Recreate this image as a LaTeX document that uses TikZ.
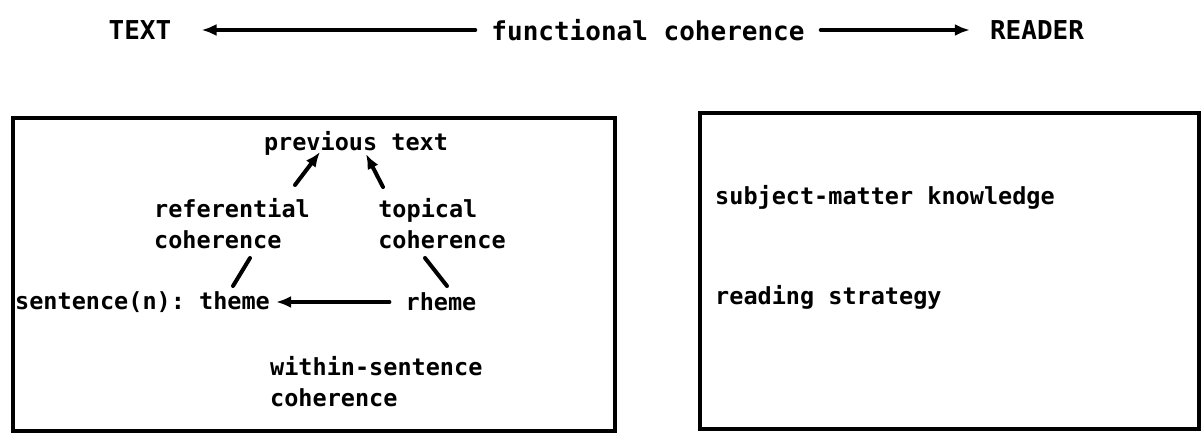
\documentclass[tikz,border=0pt]{standalone}
\usepackage{fontspec}
\setmonofont{DejaVu Sans Mono}
\usetikzlibrary{arrows.meta}
\begin{document}
\begin{tikzpicture}[x=1pt,y=-1pt,
  lbl/.style={font=\ttfamily\bfseries\fontsize{23.5}{31}\selectfont, inner sep=0pt, align=left},
  toplbl/.style={font=\ttfamily\bfseries\fontsize{26}{30}\selectfont, inner sep=0pt},
  frame/.style={draw=black, line width=3.4pt},
  conn/.style={line width=4pt, line cap=round},
  arr/.style={conn, -{Latex[length=15pt,width=12pt]}}]
\useasboundingbox (0,0) rectangle (1204,434);
\fill[white] (0,0) rectangle (1204,434);
% top row
\node[toplbl] (text) at (140,30) {TEXT};
\node[toplbl] (func) at (648,30) {functional coherence};
\node[toplbl] (reader) at (1037,30) {READER};
\draw[arr] ([xshift=-16pt]func.west) -- ([xshift=30pt]text.east);
\draw[arr] ([xshift=16pt]func.east) -- ([xshift=-20pt]reader.west);
% boxes
\draw[frame] (13,118) rectangle (615,431);
\draw[frame] (700,113) rectangle (1199,429);
% left box content
\node[lbl] (prev) at (356,143) {previous text};
\node[lbl] (ref) at (232,224) {referential\\coherence};
\node[lbl] (top) at (442,224) {topical\\coherence};
\node[lbl, anchor=west] (theme) at (15,302) {sentence(n): theme};
\node[lbl] (rheme) at (441,302) {rheme};
\node[lbl, anchor=west] (within) at (270,382) {within-sentence\\coherence};
\coordinate (c1) at (295,185);
\coordinate (c2) at (320,152);
\coordinate (c3) at (383,187);
\coordinate (c4) at (366,154);
\coordinate (c5) at (250,258);
\coordinate (c6) at (233,286);
\coordinate (c7) at (425,258);
\coordinate (c8) at (447,286);
\draw[arr] (c1) -- (c2);
\draw[arr] (c3) -- (c4);
\draw[conn] (c5) -- (c6);
\draw[conn] (c7) -- (c8);
\draw[arr] ([xshift=-16pt]rheme.west) -- ([xshift=6pt]theme.east);
% right box content
\node[lbl, anchor=west] (know) at (715,197) {subject-matter knowledge};
\node[lbl, anchor=west] (strat) at (715,297) {reading strategy};
\end{tikzpicture}
\end{document}
